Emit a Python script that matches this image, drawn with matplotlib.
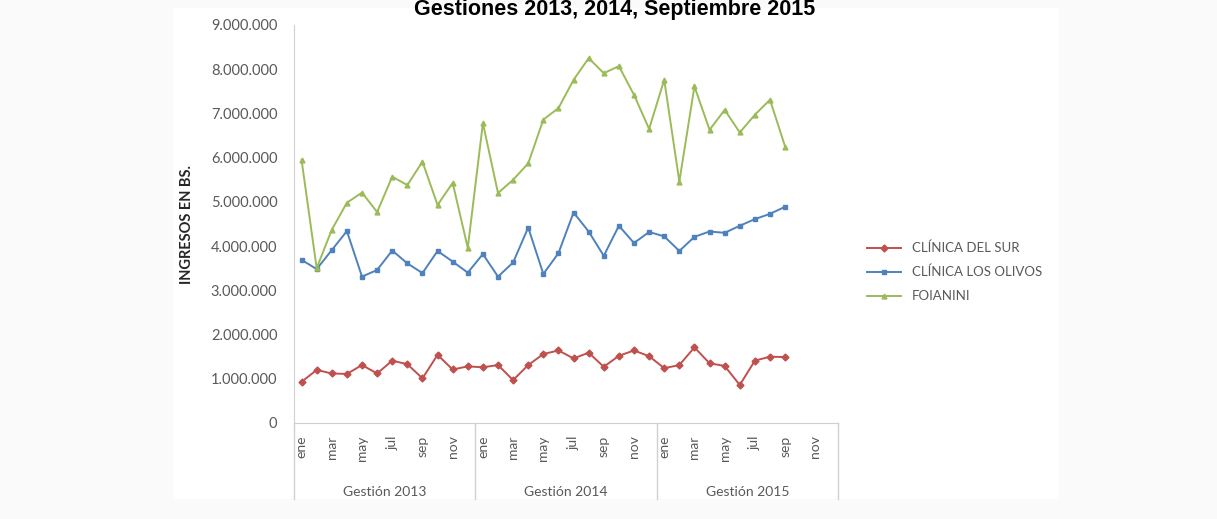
import numpy as np
import matplotlib
matplotlib.use("Agg")
import matplotlib.pyplot as plt
from matplotlib.patches import Rectangle
from matplotlib.ticker import FuncFormatter
import matplotlib.transforms as mtransforms

# categories: ene 2013 .. dic 2015 (data only up to sep 2015)
years = ['Gestión 2013', 'Gestión 2014', 'Gestión 2015']
month_labels = ['ene', 'mar', 'may', 'jul', 'sep', 'nov']
n_categories = 36

del_sur = [0.93, 1.20, 1.12, 1.11, 1.31, 1.12, 1.41, 1.33, 1.01, 1.54, 1.21, 1.28,
           1.26, 1.31, 0.97, 1.31, 1.56, 1.64, 1.46, 1.59, 1.27, 1.52, 1.64, 1.51,
           1.24, 1.31, 1.71, 1.35, 1.29, 0.86, 1.41, 1.50, 1.49]
los_olivos = [3.69, 3.48, 3.91, 4.34, 3.31, 3.46, 3.90, 3.61, 3.39, 3.89, 3.65, 3.40,
              3.82, 3.31, 3.63, 4.42, 3.37, 3.84, 4.76, 4.33, 3.78, 4.46, 4.07, 4.32,
              4.22, 3.89, 4.21, 4.33, 4.30, 4.46, 4.61, 4.73, 4.89]
foianini = [5.95, 3.50, 4.37, 4.98, 5.21, 4.77, 5.57, 5.38, 5.91, 4.93, 5.43, 3.96,
            6.78, 5.20, 5.50, 5.87, 6.86, 7.12, 7.76, 8.25, 7.91, 8.07, 7.42, 6.65,
            7.76, 5.46, 7.61, 6.63, 7.08, 6.57, 6.97, 7.31, 6.25]

series = [
    ('CLÍNICA DEL SUR', del_sur, '#C0504D', 'D'),
    ('CLÍNICA LOS OLIVOS', los_olivos, '#4F81BD', 's'),
    ('FOIANINI', foianini, '#9BBB59', '^'),
]

plt.rcParams['font.family'] = ['Lato', 'DejaVu Sans']
grey = '#595959'

fig = plt.figure(figsize=(12.17, 5.19), dpi=100, facecolor='#fafafa')
bg = Rectangle((173 / 1217, 1 - 499 / 519), 886 / 1217, 491 / 519,
               transform=fig.transFigure, facecolor='white', edgecolor='none', zorder=-5)
fig.patches.append(bg)

ax = fig.add_axes([294 / 1217, 1 - 423 / 519, 544 / 1217, 398 / 519])
ax.set_facecolor('white')
ax.set_zorder(2)

for name, vals, color, mk in series:
    x = np.arange(len(vals))
    ax.plot(x, np.array(vals) * 1e6, color=color, lw=1.4, marker=mk,
            markersize=3.5, markerfacecolor=color, markeredgecolor=color, label=name)

ax.set_xlim(-0.5, n_categories - 0.5)
ax.set_ylim(0, 9e6)
ax.set_yticks(np.arange(0, 9e6 + 1, 1e6))
ax.yaxis.set_major_formatter(FuncFormatter(lambda v, p: f'{int(v):,}'.replace(',', '.')))
ax.tick_params(axis='y', length=0, pad=12, labelsize=10.5, labelcolor=grey)

ax.set_xticks(np.arange(0, n_categories, 2))
ax.set_xticklabels(month_labels * 3, rotation=90, va='top')
ax.tick_params(axis='x', length=0, pad=9, labelsize=10, labelcolor=grey)

for side in ['top', 'right']:
    ax.spines[side].set_visible(False)
ax.spines['left'].set_color('#d0d0d0')
ax.spines['bottom'].set_color('#d0d0d0')

trans = mtransforms.blended_transform_factory(ax.transData, ax.transAxes)
for k in range(4):
    xs = k * 12 - 0.5
    ax.plot([xs, xs], [0, -76 / 398], color='#d0d0d0', lw=1, transform=trans, clip_on=False)
for k, yr in enumerate(years):
    ax.text(k * 12 + 5.5, -69 / 398, yr, transform=trans, ha='center', va='center',
            fontsize=10, color=grey)

ax.set_ylabel('INGRESOS EN BS.', fontsize=10.5, fontweight='bold', color='#262626', labelpad=12)

fig.text(615 / 1217, 1 - 15 / 519, 'Gestiones 2013, 2014, Septiembre 2015', ha='center',
         va='baseline', fontsize=15.5, fontweight='bold', family=['Liberation Sans'])

fig.legend(loc='center left', bbox_to_anchor=(855 / 1217, 1 - 272 / 519), frameon=False,
           fontsize=9.5, labelcolor=grey, handlelength=2.6, labelspacing=0.9)

fig.savefig('out.png', dpi=100, facecolor=fig.get_facecolor())
